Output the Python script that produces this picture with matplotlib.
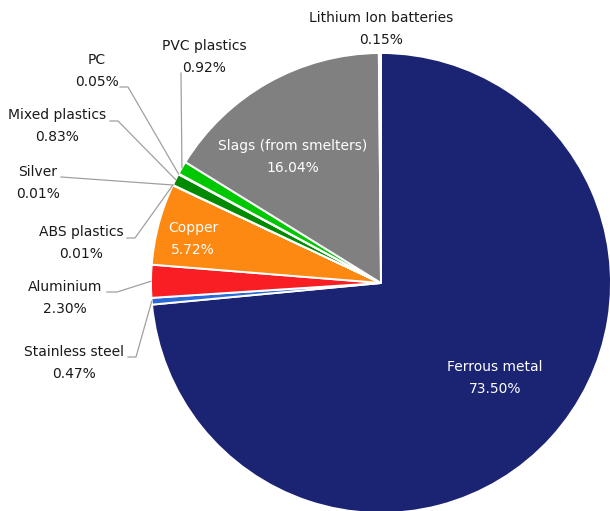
import numpy as np
import matplotlib.pyplot as plt

plt.rcParams['font.family'] = ['DejaVu Sans']

# dados (% do total)
materiais = ["Ferrous metal", "Stainless steel", "Aluminium", "Copper", "ABS plastics",
             "Silver", "Mixed plastics", "PC", "PVC plastics", "Slags (from smelters)",
             "Lithium Ion batteries"]
valores = [73.50, 0.47, 2.30, 5.72, 0.01, 0.01, 0.83, 0.05, 0.92, 16.04, 0.15]
rotulos = ["73.50%", "0.47%", "2.30%", "5.72%", "0.01%", "0.01%", "0.83%", "0.05%",
           "0.92%", "16.04%", "0.15%"]
cores = ["#1a2472", "#2a6ad6", "#f91e24", "#fd8913", "#ffd000", "#b0b0b0",
         "#008a00", "#66dd66", "#00c800", "#808080", "#fbfbfb"]

# layout em pixels da imagem (610x511), centro da pizza e raio
W, H = 610, 511
CX, CY, R = 381, 283, 230

def px(x, y):
    return (x - CX) / R, (CY - y) / R

# rotulos dentro (branco): texto centro
dentro = {"Ferrous metal": (495, 378), "Copper": (193, 239),
          "Slags (from smelters)": (293, 157)}
# rotulos fora: centro do texto, inicio do conector, cotovelo
fora = {
    "Stainless steel": ((74, 363), (128, 357), (136, 357)),
    "Aluminium": ((65, 298), (107, 292), (117, 292)),
    "ABS plastics": ((81, 243), (127, 238), (135, 238)),
    "Silver": ((38, 183), (61, 177), None),
    "Mixed plastics": ((57, 126), (110, 121), (118, 121)),
    "PC": ((97, 71), (120, 87), (128, 87)),
    "PVC plastics": ((204, 57), (181, 73), None),
    "Lithium Ion batteries": ((381, 29), None, None),
}

fig = plt.figure(figsize=(W / 100, H / 100), dpi=100)
ax = fig.add_axes([0, 0, 1, 1])

wedges, _ = ax.pie(valores, colors=cores, startangle=90, counterclock=False,
                   radius=1.0, wedgeprops=dict(edgecolor="white", linewidth=1.4))
ax.set_aspect("auto")
ax.set_xlim(-CX / R, (W - CX) / R)
ax.set_ylim(-(H - CY) / R, CY / R)
ax.axis("off")

fs = 10
ls = 1.65
for i, nome in enumerate(materiais):
    txt = f"{nome}\n{rotulos[i]}"
    if nome in dentro:
        x, y = px(*dentro[nome])
        ax.text(x, y, txt, ha="center", va="center", color="white",
                fontsize=fs, linespacing=ls)
        continue
    centro, ini, cot = fora[nome]
    x, y = px(*centro)
    ax.text(x, y, txt, ha="center", va="center", color="#1a1a1a",
            fontsize=fs, linespacing=ls)
    if ini is None:
        continue
    w = wedges[i]
    ang = np.deg2rad((w.theta1 + w.theta2) / 2)
    ex, ey = np.cos(ang), np.sin(ang)
    pts = [px(*ini)]
    if cot is not None:
        pts.append(px(*cot))
    pts.append((ex, ey))
    xs, ys = zip(*pts)
    ax.plot(xs, ys, color="#a0a0a0", linewidth=0.9)

fig.savefig("out.png", dpi=100)
